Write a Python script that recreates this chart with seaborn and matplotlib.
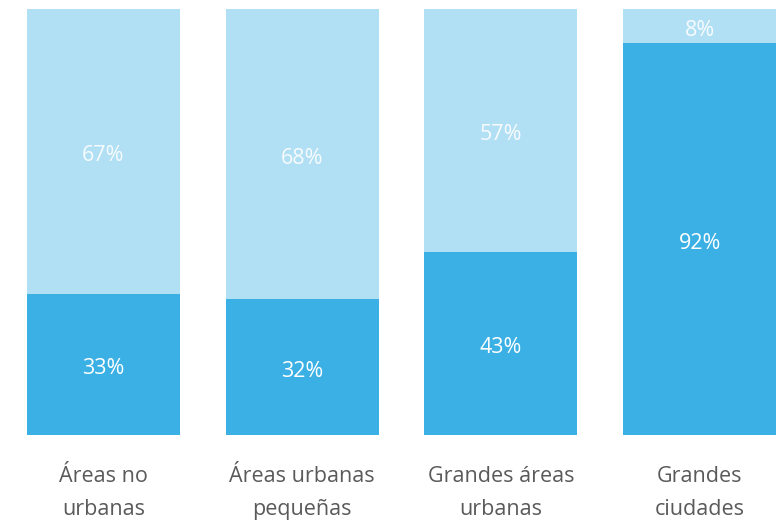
import matplotlib
matplotlib.use("Agg")
import matplotlib.pyplot as plt
import seaborn as sns
import pandas as pd

categories = ["Áreas no\nurbanas", "Áreas urbanas\npequeñas", "Grandes áreas\nurbanas", "Grandes\nciudades"]
bottom_vals = [33, 32, 43, 92]
top_vals = [67, 68, 57, 8]

sns.set_theme(style="white")
plt.rcParams['font.family'] = ['Open Sans', 'DejaVu Sans']

df = pd.DataFrame({"cat": categories, "bottom": bottom_vals, "top": top_vals})
df["total"] = df["bottom"] + df["top"]

fig = plt.figure(figsize=(7.82, 5.26), dpi=100)
ax = fig.add_axes([27/782, 91/526, (776-27)/782, (435-9)/526])

light = "#B1DFF4"
dark = "#3AB0E5"
w = 153/199
sns.barplot(data=df, x="cat", y="total", color=light, width=w, ax=ax, saturation=1, linewidth=0)
sns.barplot(data=df, x="cat", y="bottom", color=dark, width=w, ax=ax, saturation=1, linewidth=0)

for i, (b, t) in enumerate(zip(bottom_vals, top_vals)):
    ax.annotate(f"{b}%", (i, b/2), xytext=(0, -3), textcoords="offset points",
                ha="center", va="center", color="white", fontsize=15.5)
    ax.annotate(f"{t}%", (i, b + t/2), xytext=(0, -3), textcoords="offset points",
                ha="center", va="center", color="white", fontsize=15.5, alpha=0.9)

ax.set_xlim(-w/2, 3 + w/2)
ax.set_ylim(0, 100)
ax.set_yticks([])
ax.set_xlabel("")
ax.set_ylabel("")
ax.tick_params(axis="x", length=0, pad=22, labelsize=15.5, labelcolor="#5a5a5a")
for lbl in ax.get_xticklabels():
    lbl.set_linespacing(1.8)
for s in ax.spines.values():
    s.set_visible(False)

fig.savefig("out.png", dpi=100)
